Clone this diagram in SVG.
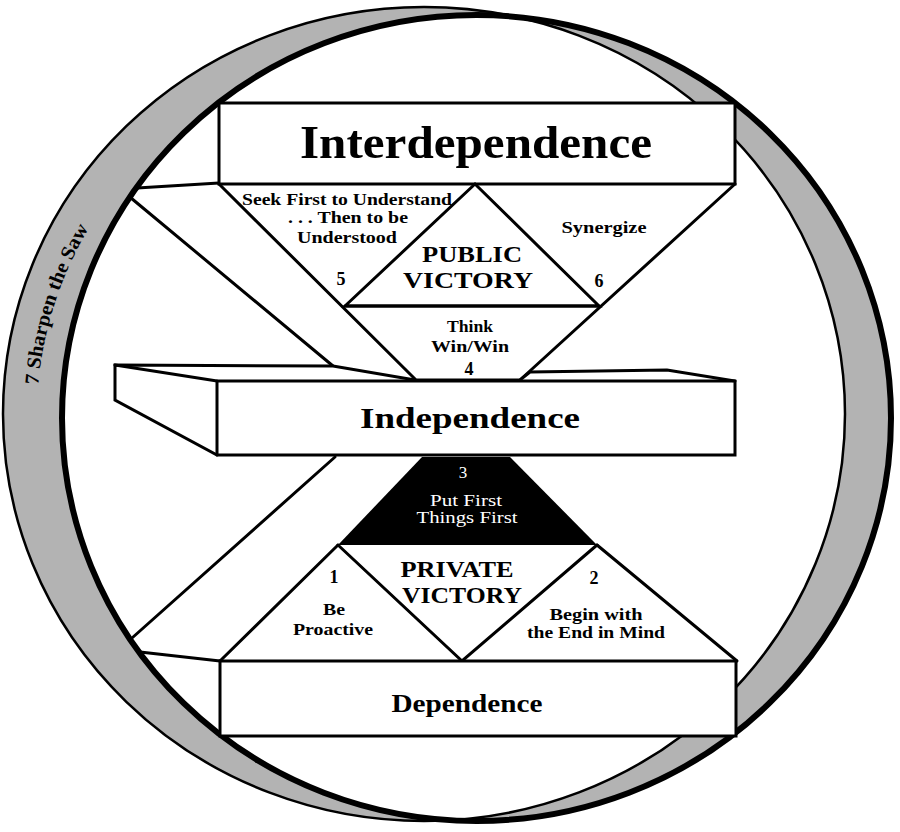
<svg xmlns="http://www.w3.org/2000/svg" xmlns:xlink="http://www.w3.org/1999/xlink" width="900" height="832" viewBox="0 0 900 832">
<style>
.bg{fill:#ffffff}
.gray{fill:#b3b3b3}
.ln{fill:none;stroke:#000;stroke-width:3;stroke-linejoin:miter;stroke-linecap:round}
.box{fill:#fff;stroke:#000;stroke-width:3}
.t{font-family:"Liberation Serif","Times New Roman",serif;font-weight:bold;fill:#000;text-anchor:middle}
.w{font-family:"Liberation Serif","Times New Roman",serif;font-weight:normal;fill:#fff;text-anchor:middle}
</style>
<defs>
<clipPath id="clipB"><ellipse cx="476.5" cy="418" rx="414.5" ry="403"/></clipPath>
<path id="sawArc" d="M 37.6,395 A 413 385 0 0 1 114.8,190"/>
</defs>
<rect class="bg" x="0" y="0" width="900" height="832"/>

<g id="ring">
<ellipse class="gray" cx="424" cy="414" rx="421" ry="407"/>
<ellipse class="gray" cx="476.5" cy="418" rx="414.5" ry="403"/>
<ellipse fill="#fff" cx="424" cy="414" rx="421" ry="407" clip-path="url(#clipB)"/>
<ellipse fill="none" stroke="#000" stroke-width="2.5" cx="424" cy="414" rx="421" ry="407"/>
<ellipse fill="none" stroke="#000" stroke-width="6" cx="476.5" cy="418" rx="414.5" ry="403"/>
</g>

<g id="connectors">
<path class="ln" d="M137,188 L219,183"/>
<path class="ln" d="M131,198 L333,366"/>
<path class="ln" d="M219,184 L415,379"/>
<path class="ln" d="M735,184 L520,380"/>
<path class="ln" d="M345,306 L599,306"/>
<path class="ln" d="M335,457 L132,638"/>
<path class="ln" d="M140,652 L220,661"/>
<path class="ln" d="M338,545 L220,661"/>
<path class="ln" d="M597,545 L737,661"/>
</g>

<g id="interdependence">
<rect class="box" x="219" y="103" width="516" height="81"/>
<text class="t" x="476" y="158" font-size="47" textLength="352" lengthAdjust="spacingAndGlyphs">Interdependence</text>
</g>

<g id="public-victory">
<path class="ln" d="M345,306 L475,184 L599,306 Z"/>
<text class="t" x="472" y="262" font-size="24" textLength="100" lengthAdjust="spacingAndGlyphs">PUBLIC</text>
<text class="t" x="468" y="288" font-size="24" textLength="130" lengthAdjust="spacingAndGlyphs">VICTORY</text>
</g>

<g id="habit5">
<text class="t" x="347" y="205" font-size="17" textLength="210" lengthAdjust="spacingAndGlyphs">Seek First to Understand</text>
<text class="t" x="348" y="223" font-size="17" textLength="120" lengthAdjust="spacingAndGlyphs">. . . Then to be</text>
<text class="t" x="347" y="243" font-size="17" textLength="100" lengthAdjust="spacingAndGlyphs">Understood</text>
<text class="t" x="341" y="285" font-size="18">5</text>
</g>

<g id="habit6">
<text class="t" x="604" y="233" font-size="17" textLength="85" lengthAdjust="spacingAndGlyphs">Synergize</text>
<text class="t" x="599" y="287" font-size="18">6</text>
</g>

<g id="habit4">
<text class="t" x="470" y="332" font-size="16" textLength="46" lengthAdjust="spacingAndGlyphs">Think</text>
<text class="t" x="470" y="352" font-size="16" textLength="78" lengthAdjust="spacingAndGlyphs">Win/Win</text>
<text class="t" x="469" y="375" font-size="18">4</text>
</g>

<g id="independence">
<path class="box" d="M115,365 L333,366 L415,380 L520,380 L530,372 L667,370 L735,381 L735,455 L217,455 L115,400 Z"/>
<path class="ln" d="M115,365 L217,381 L735,381"/>
<path class="ln" d="M217,381 L217,455"/>
<text class="t" x="470" y="428" font-size="30" textLength="220" lengthAdjust="spacingAndGlyphs">Independence</text>
</g>

<g id="habit3">
<polygon points="422,457 510,457 597,545 338,545" fill="#000"/>
<text class="w" x="463" y="478" font-size="17">3</text>
<text class="w" x="466" y="506" font-size="16" textLength="72" lengthAdjust="spacingAndGlyphs">Put First</text>
<text class="w" x="467" y="523" font-size="16" textLength="101" lengthAdjust="spacingAndGlyphs">Things First</text>
</g>

<g id="private-victory">
<path class="ln" d="M338,545 L462,661 L597,545"/>
<text class="t" x="457" y="577" font-size="24" textLength="113" lengthAdjust="spacingAndGlyphs">PRIVATE</text>
<text class="t" x="462" y="603" font-size="24" textLength="120" lengthAdjust="spacingAndGlyphs">VICTORY</text>
</g>

<g id="habit1">
<text class="t" x="334" y="583" font-size="18">1</text>
<text class="t" x="334" y="615" font-size="16" textLength="22" lengthAdjust="spacingAndGlyphs">Be</text>
<text class="t" x="333" y="635" font-size="16" textLength="80" lengthAdjust="spacingAndGlyphs">Proactive</text>
</g>

<g id="habit2">
<text class="t" x="594" y="584" font-size="18">2</text>
<text class="t" x="596" y="620" font-size="16" textLength="93" lengthAdjust="spacingAndGlyphs">Begin with</text>
<text class="t" x="596" y="638" font-size="16" textLength="138" lengthAdjust="spacingAndGlyphs">the End in Mind</text>
</g>

<g id="dependence">
<rect class="box" x="220" y="661" width="516" height="75"/>
<text class="t" x="467" y="712" font-size="25" textLength="151" lengthAdjust="spacingAndGlyphs">Dependence</text>
</g>

<g id="habit7">
<text font-family="Liberation Serif, Times New Roman, serif" font-weight="bold" font-size="20" fill="#000"><textPath xlink:href="#sawArc" href="#sawArc" startOffset="10" textLength="166" lengthAdjust="spacingAndGlyphs">7 Sharpen the Saw</textPath></text>
</g>
</svg>
